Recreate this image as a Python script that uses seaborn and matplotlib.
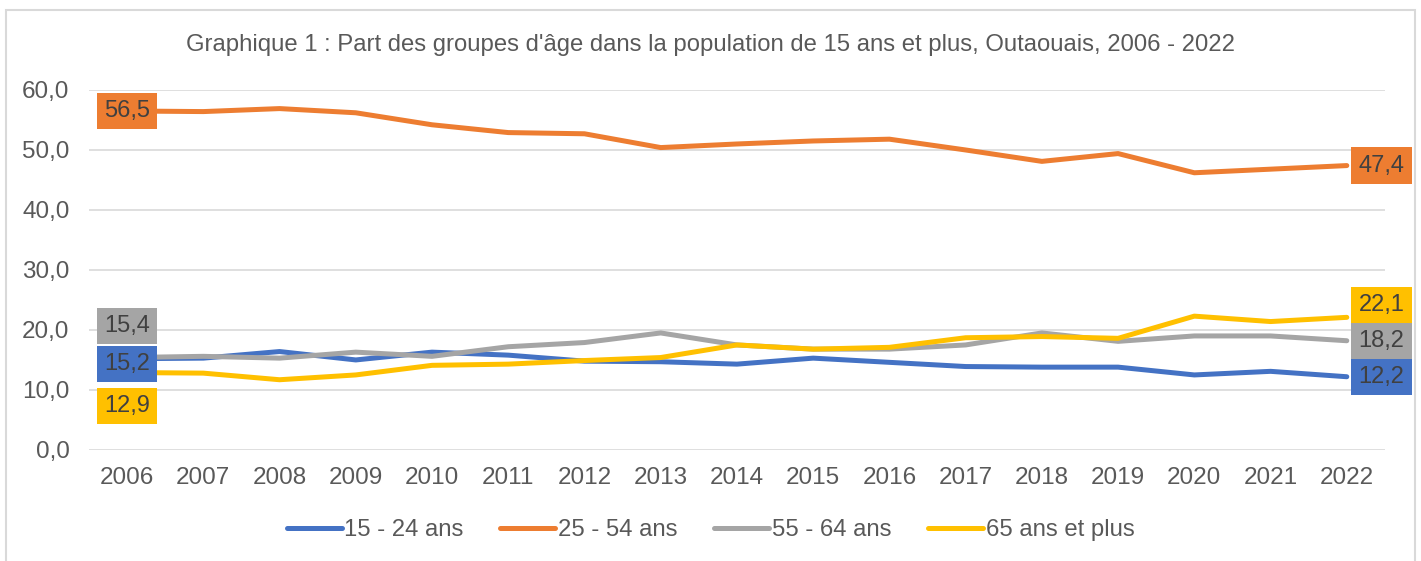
import pandas as pd
import numpy as np
import matplotlib
matplotlib.use('Agg')
import matplotlib.pyplot as plt
import seaborn as sns
from matplotlib.ticker import FuncFormatter
from matplotlib.patches import Rectangle

annees = list(range(2006, 2023))
groupes = ['15 - 24 ans', '25 - 54 ans', '55 - 64 ans', '65 ans et plus']
a15_24 = [15.2, 15.3, 16.4, 15.0, 16.3, 15.8, 14.8, 14.7, 14.3, 15.3, 14.6, 13.9, 13.8, 13.8, 12.5, 13.1, 12.2]
a25_54 = [56.5, 56.4, 56.9, 56.2, 54.2, 52.9, 52.7, 50.4, 51.0, 51.5, 51.8, 50.0, 48.1, 49.4, 46.2, 46.8, 47.4]
a55_64 = [15.4, 15.6, 15.3, 16.3, 15.6, 17.2, 17.9, 19.5, 17.5, 16.8, 16.8, 17.5, 19.5, 18.1, 19.0, 19.0, 18.2]
a65_plus = [12.9, 12.8, 11.7, 12.5, 14.1, 14.3, 14.9, 15.4, 17.5, 16.8, 17.1, 18.7, 18.9, 18.6, 22.3, 21.4, 22.1]
couleurs = ['#4472C4', '#ED7D31', '#A5A5A5', '#FFC000']
titre = "Graphique 1 : Part des groupes d'âge dans la population de 15 ans et plus, Outaouais, 2006 - 2022"

series = [a15_24, a25_54, a55_64, a65_plus]
df = pd.DataFrame({
    'annee': annees * 4,
    'part': sum(series, []),
    'groupe': np.repeat(groupes, len(annees)),
})

sns.set_theme(style='white')
plt.rcParams['font.family'] = ['Liberation Sans', 'DejaVu Sans']
gris_txt = '#595959'

fig = plt.figure(figsize=(14.21, 5.61), dpi=100)
ax = fig.add_axes([0.0626, 0.198, 0.912, 0.6416])

sns.lineplot(data=df, x='annee', y='part', hue='groupe', palette=couleurs,
             linewidth=3.6, ax=ax, legend=False)
for ln in ax.lines:
    ln.set_solid_capstyle('round')

ax.set_xlim(2005.5, 2022.5)
ax.set_ylim(0, 60)
ax.set_yticks(np.arange(0, 61, 10))
ax.set_xticks(annees)
ax.yaxis.set_major_formatter(FuncFormatter(lambda v, p: f'{v:.1f}'.replace('.', ',')))
ax.grid(axis='y', color='#D9D9D9', linewidth=1.2)
ax.set_axisbelow(True)
for s in ax.spines.values():
    s.set_visible(False)
ax.tick_params(axis='y', length=0, pad=14, labelsize=17.5, labelcolor=gris_txt)
ax.tick_params(axis='x', length=0, pad=12, labelsize=17.5, labelcolor=gris_txt)
ax.set_xlabel('')
ax.set_ylabel('')

# etiquettes de donnees (premiere et derniere annee)
dec_debut = [(0, -4), (0, 0), (0, 23), (0, -24)]
dec_fin = [(25, 0), (25, 0), (25, 0), (25, 9)]
for vals, c, d0, d1 in zip(series, couleurs, dec_debut, dec_fin):
    for x, v, d in [(annees[0], vals[0], d0), (annees[-1], vals[-1], d1)]:
        ax.annotate(f'{v:.1f}'.replace('.', ','), (x, v), xytext=d,
                    textcoords='offset points', ha='center', va='center',
                    fontsize=17, color='#404040', annotation_clip=False,
                    bbox=dict(boxstyle='square,pad=0.3', fc=c, ec='none'))

fig.text(0.5, 0.92, titre, ha='center', va='center', fontsize=17.2, color=gris_txt)

poignees = [plt.Line2D([0], [0], color=c, lw=3.6, solid_capstyle='round') for c in couleurs]
leg = fig.legend(poignees, groupes, loc='center', bbox_to_anchor=(0.5, 0.055),
                 ncol=4, frameon=False, fontsize=17.2, handlelength=2.3,
                 handletextpad=0.1, columnspacing=1.55)
for t in leg.get_texts():
    t.set_color(gris_txt)

fig.patches.append(Rectangle((0.004, -0.05), 0.992, 1.032, transform=fig.transFigure,
                             fill=False, ec='#D9D9D9', lw=1.5))

fig.savefig('out.png', dpi=100)
